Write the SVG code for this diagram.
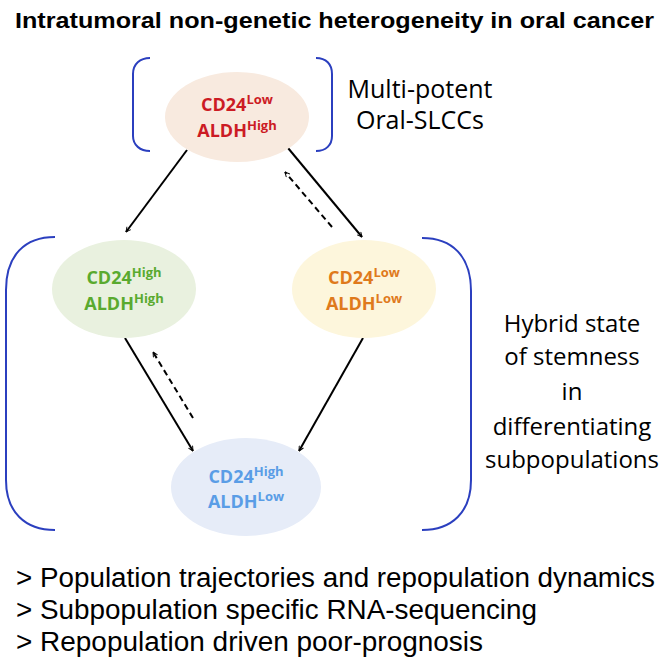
<svg xmlns="http://www.w3.org/2000/svg" width="664" height="664" viewBox="0 0 664 664">
<defs>
<marker id="ah" viewBox="0 0 10 10" refX="9" refY="5" markerWidth="6" markerHeight="6" orient="auto" markerUnits="userSpaceOnUse">
<path d="M1,1 L9,5 L1,9" fill="none" stroke="#000" stroke-width="1.6"/>
</marker>
</defs>
<style>
.title{font-family:"Liberation Sans",Arial,sans-serif;font-weight:bold;font-size:22px;fill:#000}
.lab{font-family:"Open Sans","Liberation Sans",sans-serif;font-size:24px;fill:#000}
.bul{font-family:"Liberation Sans",Arial,sans-serif;font-size:27px;fill:#000}
.node{font-family:"Open Sans","Liberation Sans",sans-serif;font-weight:bold;font-size:18px}
.sup{font-size:13px}
.br{fill:none;stroke:#2b3fbf;stroke-width:2}
.ln{fill:none;stroke:#000;stroke-width:2;marker-end:url(#ah)}
.dash{stroke-dasharray:6,4}
</style>
<rect width="664" height="664" fill="#fff"/>
<text class="title" x="15" y="28" textLength="639" lengthAdjust="spacingAndGlyphs">Intratumoral non-genetic heterogeneity in oral cancer</text>

<g id="brackets">
<path class="br" d="M150,58 C140,58 133,64 133,74 L133,136 C133,145 140,151 150,151"/>
<path class="br" d="M316,58 C326,58 332,64 332,74 L332,136 C332,145 326,151 316,151"/>
<path class="br" d="M55,237 C25,237 6,255 6,290 L6,480 C6,512 25,530 55,530"/>
<path class="br" d="M422,238 C452,238 471,256 471,291 L471,480 C471,512 452,530 422,530"/>
</g>

<g id="connectors">
<line class="ln" x1="187" y1="150" x2="126" y2="232"/>
<line class="ln" x1="288" y1="148" x2="362" y2="237"/>
<line class="ln dash" x1="332" y1="227" x2="285" y2="172"/>
<line class="ln" x1="125" y1="338" x2="193" y2="451"/>
<line class="ln dash" x1="193" y1="418" x2="153" y2="352"/>
<line class="ln" x1="363" y1="338" x2="299" y2="451"/>
</g>

<g id="node-top">
<ellipse cx="237" cy="117" rx="72" ry="45" fill="#f8eadf"/>
<text class="node" x="237" y="111" text-anchor="middle" fill="#cc1b24">CD24<tspan class="sup" dy="-7">Low</tspan></text>
<text class="node" x="237" y="137" text-anchor="middle" fill="#cc1b24">ALDH<tspan class="sup" dy="-7">High</tspan></text>
</g>

<g id="node-left">
<ellipse cx="124" cy="289" rx="72" ry="49" fill="#e9f1df"/>
<text class="node" x="124" y="284" text-anchor="middle" fill="#5aaa2f">CD24<tspan class="sup" dy="-7">High</tspan></text>
<text class="node" x="124" y="310" text-anchor="middle" fill="#5aaa2f">ALDH<tspan class="sup" dy="-7">High</tspan></text>
</g>

<g id="node-right">
<ellipse cx="364" cy="289" rx="72" ry="49" fill="#fdf6dc"/>
<text class="node" x="364" y="284" text-anchor="middle" fill="#df7a1c">CD24<tspan class="sup" dy="-7">Low</tspan></text>
<text class="node" x="364" y="310" text-anchor="middle" fill="#df7a1c">ALDH<tspan class="sup" dy="-7">Low</tspan></text>
</g>

<g id="node-bottom">
<ellipse cx="246" cy="487" rx="75" ry="49" fill="#e6ecf8"/>
<text class="node" x="246" y="483" text-anchor="middle" fill="#5a9de6">CD24<tspan class="sup" dy="-7">High</tspan></text>
<text class="node" x="246" y="508" text-anchor="middle" fill="#5a9de6">ALDH<tspan class="sup" dy="-7">Low</tspan></text>
</g>

<g id="labels">
<text class="lab" x="420" y="98" text-anchor="middle" style="font-size:25px">Multi-potent</text>
<text class="lab" x="420" y="129" text-anchor="middle" style="font-size:25px">Oral-SLCCs</text>
<text class="lab" x="572" y="332" text-anchor="middle">Hybrid state</text>
<text class="lab" x="572" y="365" text-anchor="middle">of stemness</text>
<text class="lab" x="572" y="400" text-anchor="middle">in</text>
<text class="lab" x="572" y="435" text-anchor="middle">differentiating</text>
<text class="lab" x="572" y="468" text-anchor="middle">subpopulations</text>
</g>

<g id="bullets">
<text class="bul" x="16" y="587" textLength="639" lengthAdjust="spacingAndGlyphs">&gt; Population trajectories and repopulation dynamics</text>
<text class="bul" x="16" y="619" textLength="521" lengthAdjust="spacingAndGlyphs">&gt; Subpopulation specific RNA-sequencing</text>
<text class="bul" x="16" y="651" textLength="467" lengthAdjust="spacingAndGlyphs">&gt; Repopulation driven poor-prognosis</text>
</g>
</svg>
